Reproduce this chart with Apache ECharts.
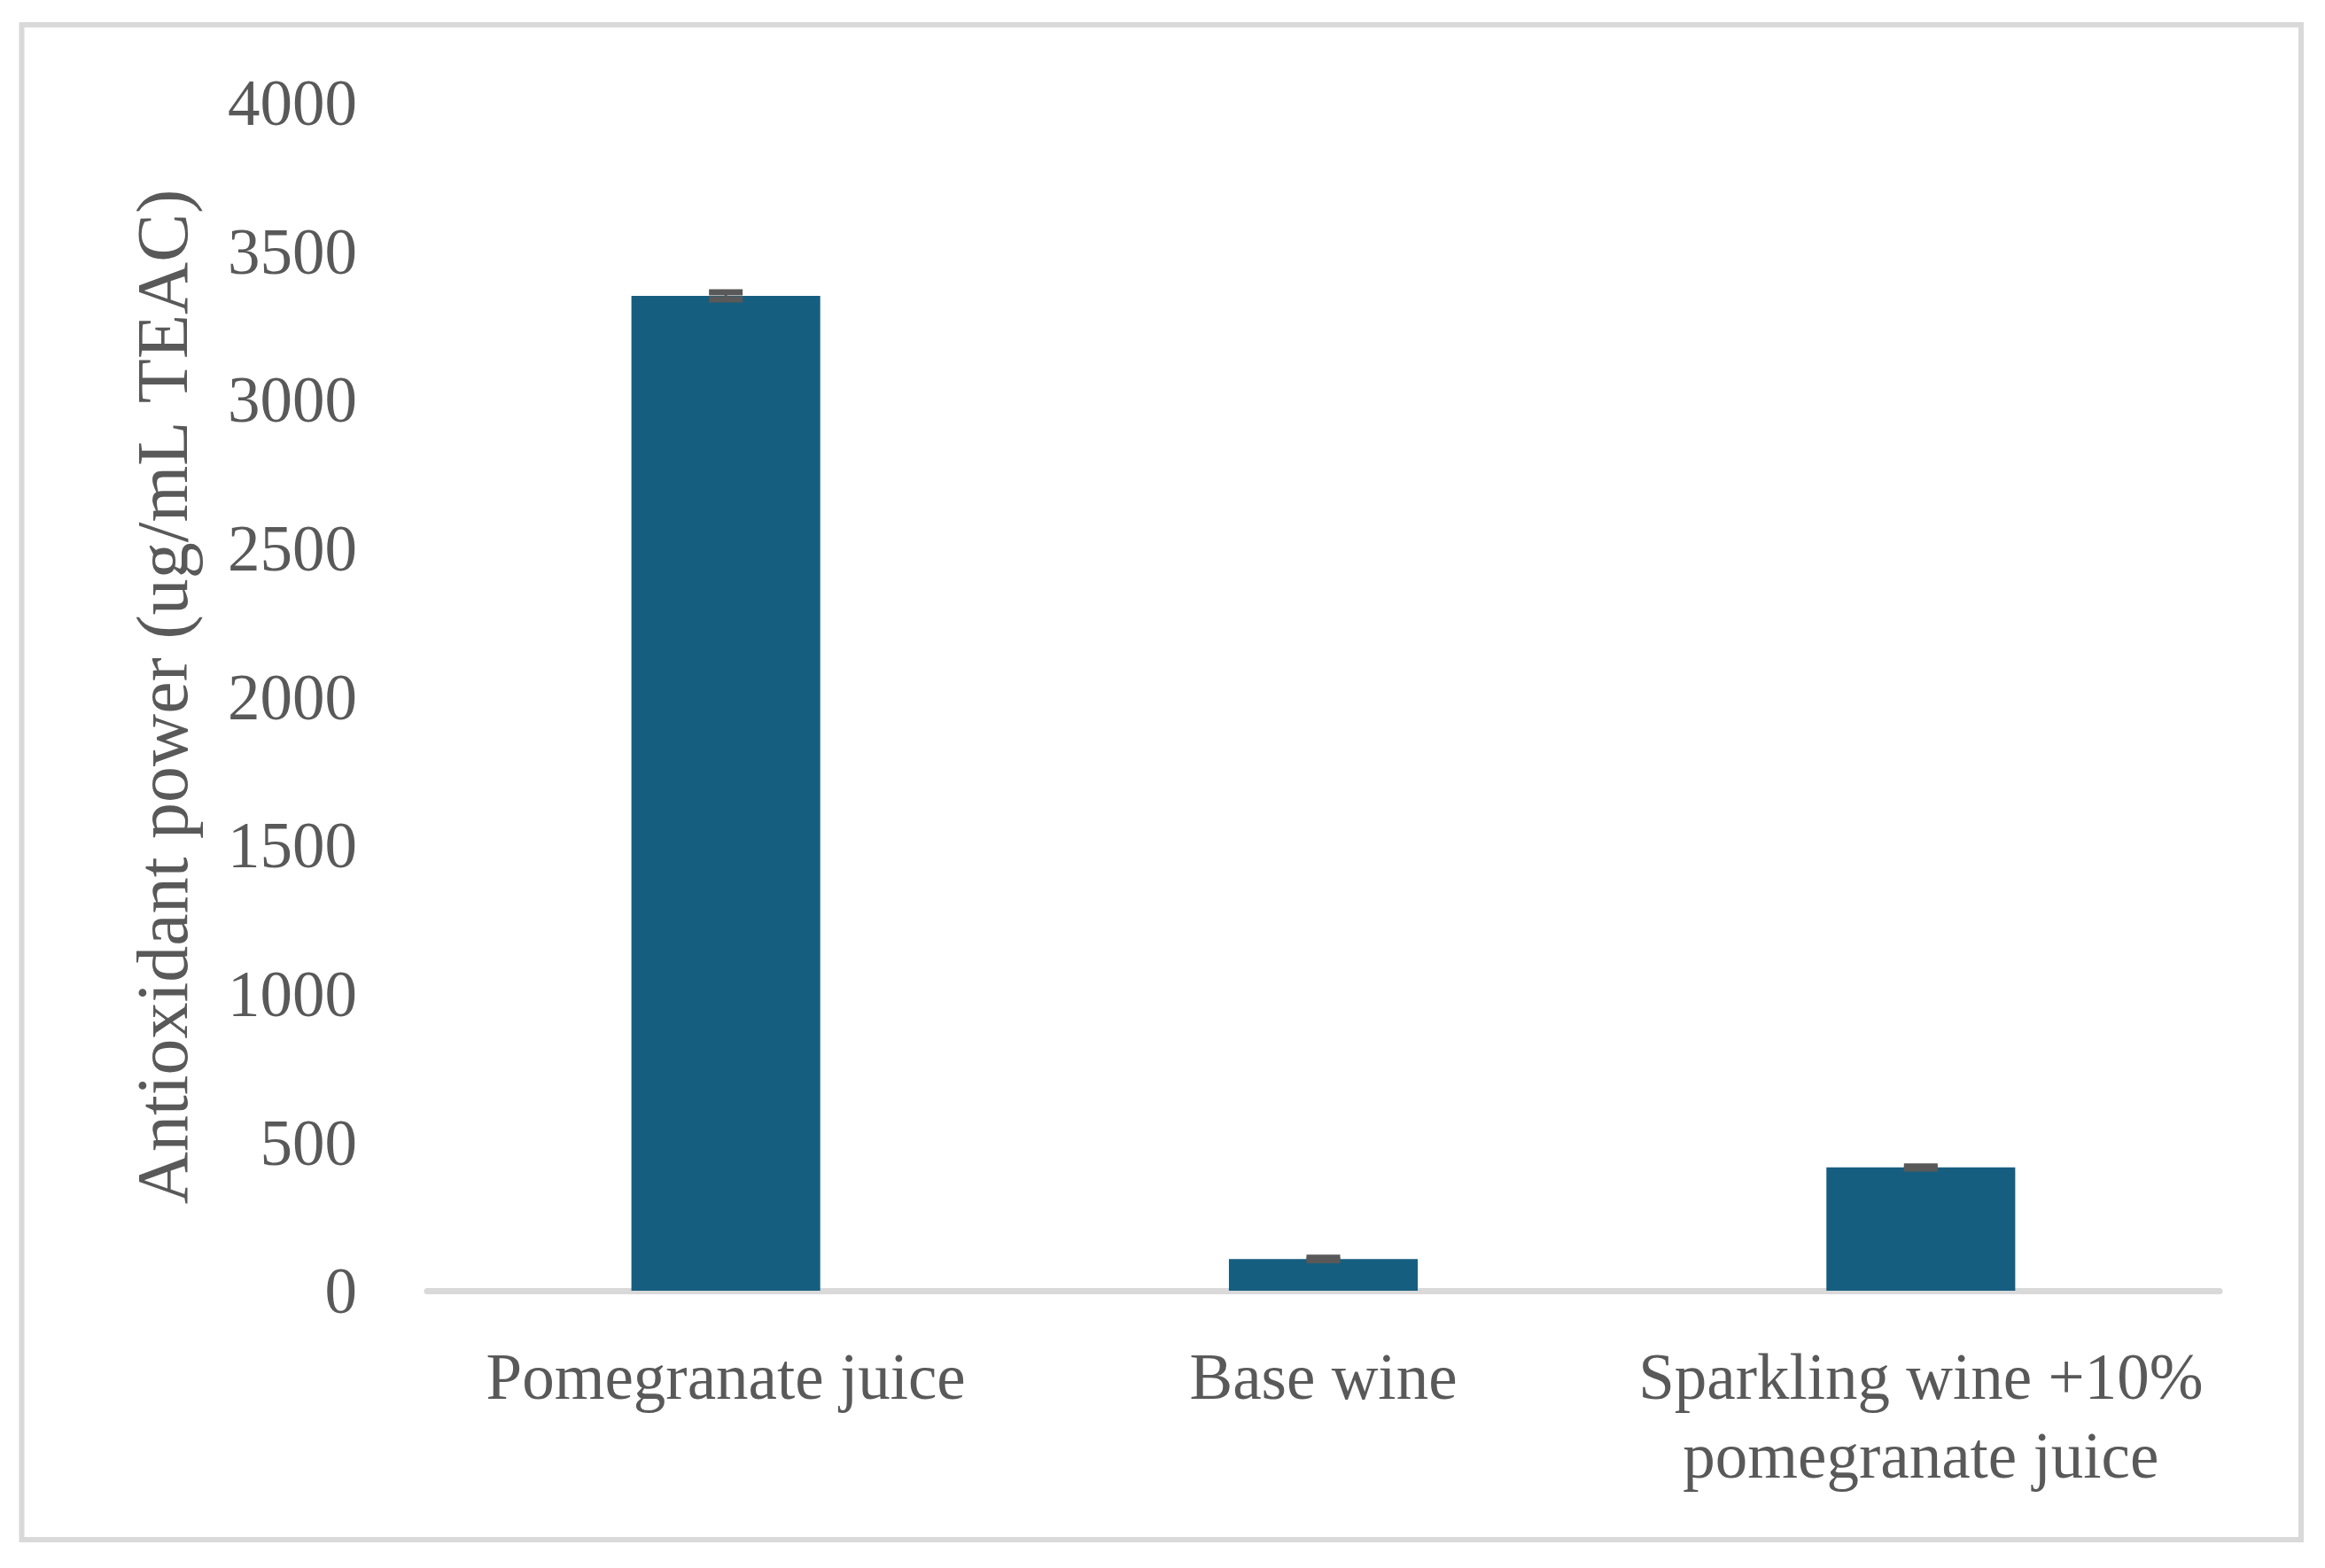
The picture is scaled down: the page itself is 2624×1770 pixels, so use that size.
<!DOCTYPE html>
<html>
<head>
<meta charset="utf-8">
<script src="https://cdn.jsdelivr.net/npm/echarts@6/dist/echarts.min.js"></script>
<style>html,body{margin:0;padding:0;background:#fff}#c{width:2624px;height:1770px}</style>
</head>
<body>
<div id="c"></div>
<script>
const categories = ['Pomegranate juice', 'Base wine', 'Sparkling wine +10%\npomegranate juice'];
const values = [3350, 107, 415];
const errors = [12, 4, 3];
const yTicks = [0, 500, 1000, 1500, 2000, 2500, 3000, 3500, 4000];
const yTitle = 'Antioxidant power (ug/mL TEAC)';

const FONT = '"Liberation Serif", "DejaVu Serif", serif';
const TXT = '#595959';

const chart = echarts.init(document.getElementById('c'), null, {renderer: 'canvas'});
chart.setOption({
  animation: false,
  backgroundColor: '#fff',
  graphic: [{
    type: 'rect',
    shape: {x: 24.5, y: 28, width: 2572.5, height: 1710},
    style: {fill: 'none', stroke: '#d9d9d9', lineWidth: 6},
    silent: true
  }],
  grid: {left: 482, right: 119, top: 116, bottom: 313, containLabel: false},
  xAxis: {
    type: 'category',
    data: categories,
    axisLine: {show: true, lineStyle: {color: '#d9d9d9', width: 7}},
    axisTick: {show: false},
    axisLabel: {color: TXT, fontFamily: FONT, fontSize: 73, margin: 58, lineHeight: 89, interval: 0}
  },
  yAxis: {
    type: 'value',
    min: yTicks[0],
    max: yTicks[yTicks.length - 1],
    interval: 500,
    axisLine: {show: false},
    axisTick: {show: false},
    splitLine: {show: false},
    axisLabel: {color: TXT, fontFamily: FONT, fontSize: 73, margin: 79,
      formatter: function (v) { return '{t|' + v + '}'; },
      rich: {t: {color: TXT, fontFamily: FONT, fontSize: 73, padding: [12, 0, 0, 0]}}},
    name: yTitle,
    nameLocation: 'middle',
    nameGap: 252,
    nameTextStyle: {color: TXT, fontFamily: FONT, fontSize: 82}
  },
  series: [{
    type: 'bar',
    data: values,
    barWidth: '31.6%',
    itemStyle: {color: '#165e80'}
  }, {
    type: 'custom',
    data: values.map((v, i) => [i, v, errors[i]]),
    z: 5,
    renderItem: function (params, api) {
      const i = api.value(0), v = api.value(1), e = api.value(2);
      const hi = api.coord([i, v + e]);
      const lo = api.coord([i, v - e]);
      const half = 19;
      const st = {stroke: '#595959', lineWidth: 7};
      return {
        type: 'group',
        children: [
          {type: 'line', shape: {x1: hi[0], y1: hi[1], x2: lo[0], y2: lo[1]}, style: {stroke: '#595959', lineWidth: 3}},
          {type: 'line', shape: {x1: hi[0] - half, y1: hi[1], x2: hi[0] + half, y2: hi[1]}, style: st},
          {type: 'line', shape: {x1: lo[0] - half, y1: lo[1], x2: lo[0] + half, y2: lo[1]}, style: st}
        ]
      };
    }
  }]
});
</script>
</body>
</html>
